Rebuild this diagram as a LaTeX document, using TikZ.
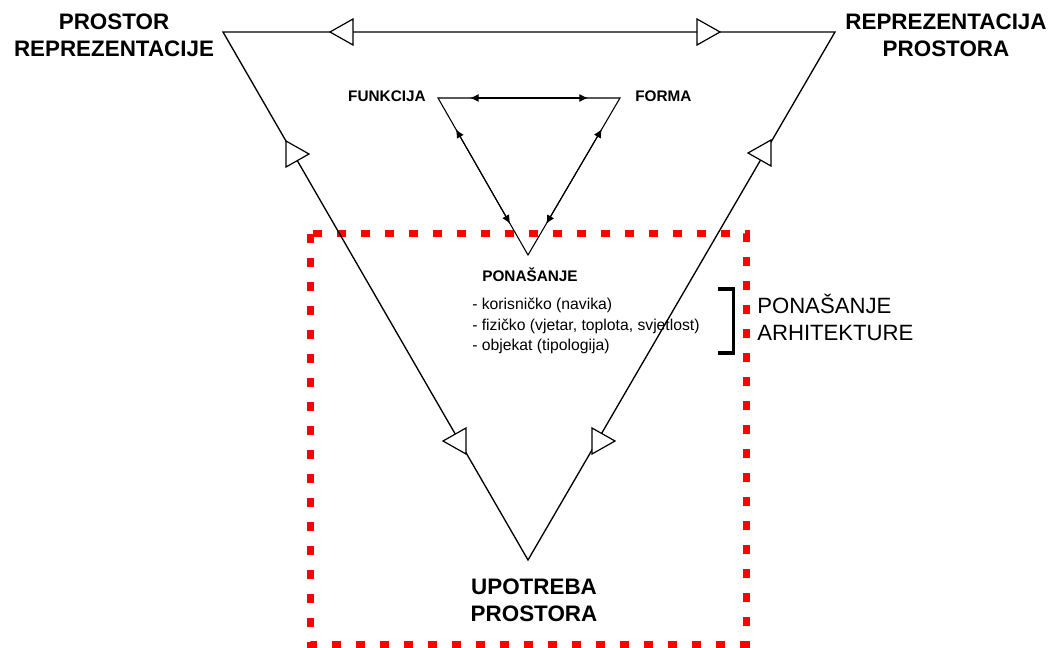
\documentclass[tikz,border=0pt]{standalone}
\usepackage{fontspec}
\setmainfont{Liberation Sans}
\usetikzlibrary{arrows.meta}

\tikzset{
  outer/.style={line width=1pt, line join=miter},
  inner/.style={line width=0.8pt},
  innertips/.style={inner, {Latex[length=6.5pt,width=6pt]}-{Latex[length=6.5pt,width=6pt]}},
  hollow/.pic={\draw[line width=0.9pt, fill=white, line join=miter] (0,0) -- (-23,-13) -- (-23,13) -- cycle;},
  bigbold/.style={inner sep=0pt, anchor=base, font=\fontsize{16.8}{20}\selectfont\bfseries},
  smallbold/.style={inner sep=0pt, font=\fontsize{11.5}{14}\selectfont\bfseries},
  listtext/.style={inner sep=0pt, anchor=base west, font=\fontsize{11.8}{15}\selectfont},
  sidetext/.style={inner sep=0pt, anchor=base west, font=\fontsize{16.6}{20}\selectfont},
  zone/.style={red, line width=5.25pt, dash pattern=on 6.75pt off 11.25pt},
  bracket/.style={line width=2.3pt, line join=miter}
}

\begin{document}
\begin{tikzpicture}[x=0.75pt, y=-0.75pt]
\useasboundingbox (0,0) rectangle (1052,648);

% dotted zone around the lower half
\draw[zone] (310,234) rectangle (746,644);

% outer triangle
\coordinate (PR) at (223,32);
\coordinate (RP) at (835,32);
\coordinate (UP) at (528,560);
\draw[outer] (PR) -- (RP) -- (UP) -- cycle;

% hollow direction markers on the outer triangle
\pic[rotate=180] at (330,32) {hollow};
\pic at (720,32) {hollow};
\pic at (309,154) {hollow};
\pic[rotate=180] at (748,153) {hollow};
\pic[rotate=180] at (443,441) {hollow};
\pic at (615,441) {hollow};

% inner triangle with two-way arrows
\coordinate (FU) at (438,98);
\coordinate (FO) at (620,98);
\coordinate (PO) at (528,255);
\draw[inner] (FU) -- (FO) -- (PO) -- cycle;
\draw[innertips, shorten <=24pt, shorten >=24pt] (FU) -- (FO);
\draw[innertips, shorten <=27pt, shorten >=27pt] (FU) -- (PO);
\draw[innertips, shorten <=27pt, shorten >=27pt] (FO) -- (PO);

% corner labels
\node[bigbold] (prA) at (114,30) {PROSTOR};
\node[bigbold] (prB) at (114,57) {REPREZENTACIJE};
\node[bigbold] (rpA) at (946,30) {REPREZENTACIJA};
\node[bigbold] (rpB) at (946,57) {PROSTORA};
\node[bigbold] (upA) at (534,594) {UPOTREBA};
\node[bigbold] (upB) at (534,621) {PROSTORA};

% inner labels
\node[smallbold, anchor=base east] (fun) at (426,101.5) {FUNKCIJA};
\node[smallbold, anchor=base west] (for) at (635,101.5) {FORMA};
\node[smallbold, anchor=base] (pon) at (530,282) {PONAŠANJE};
\node[listtext] (l1) at (472,310) {- korisničko (navika)};
\node[listtext] (l2) at (472,330) {- fizičko (vjetar, toplota, svjetlost)};
\node[listtext] (l3) at (472,350) {- objekat (tipologija)};

% bracket and side label
\coordinate (bt) at (733.5,289);
\coordinate (bb) at (733.5,353);
\draw[bracket] ([xshift=-11.5]bt) -- (bt) -- (bb) -- ([xshift=-11.5]bb);
\node[sidetext] (paA) at (757,314) {PONAŠANJE};
\node[sidetext] (paB) at (757,340) {ARHITEKTURE};
\end{tikzpicture}
\end{document}
